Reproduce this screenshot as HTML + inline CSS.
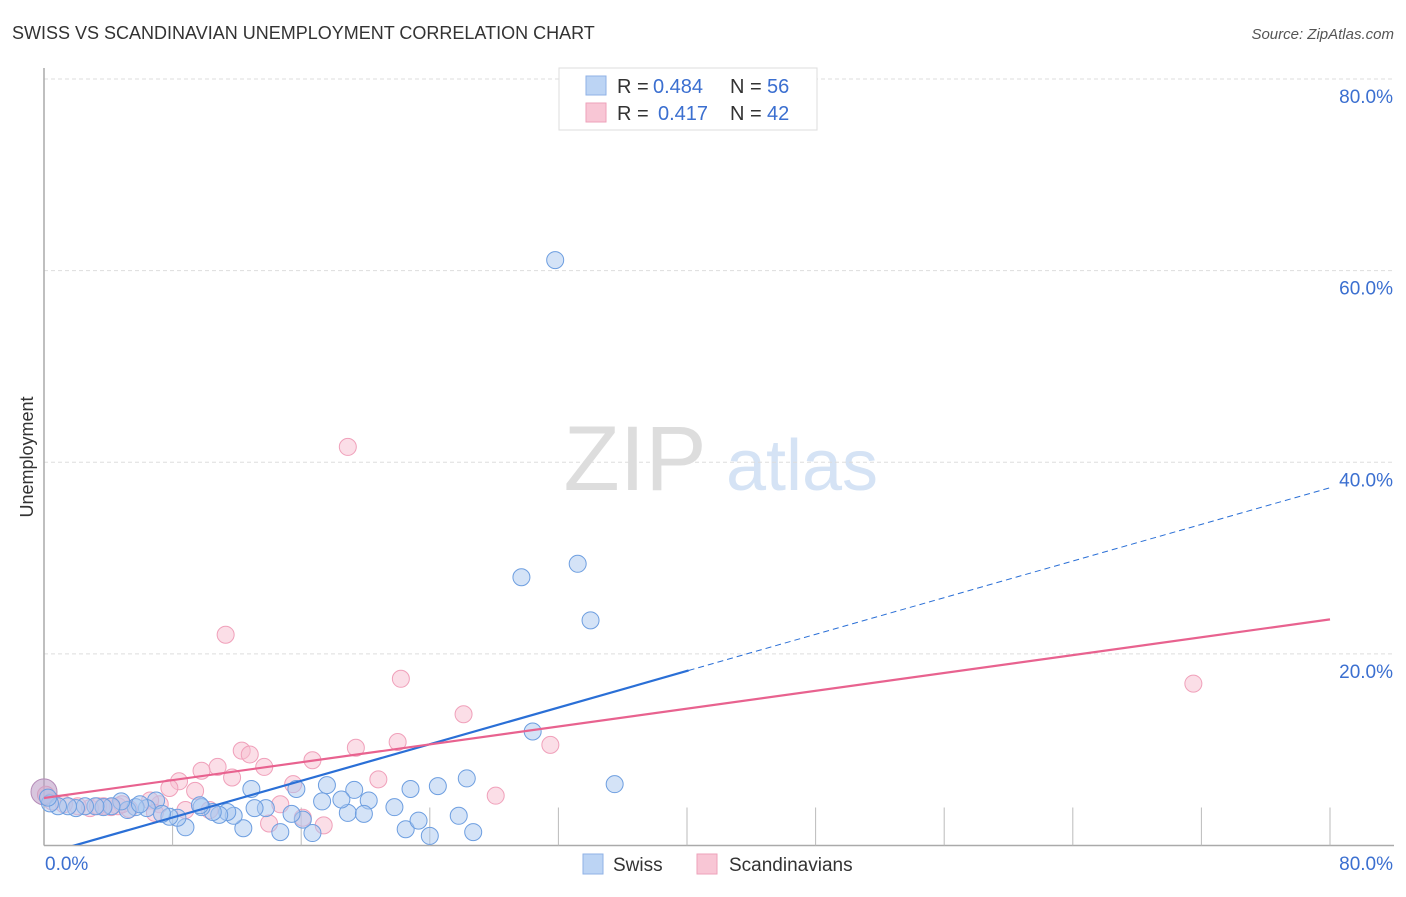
<!DOCTYPE html>
<html><head><meta charset="utf-8">
<style>
body{margin:0;background:#fff;font-family:"Liberation Sans",sans-serif;}
svg text{font-family:"Liberation Sans",sans-serif;}
</style></head>
<body>
<svg id="chart" width="1406" height="892" xmlns="http://www.w3.org/2000/svg">
<defs><clipPath id="plotclip"><rect x="44" y="60" width="1360" height="785"/></clipPath></defs>
<text x="12" y="39" font-size="18" fill="#333">SWISS VS SCANDINAVIAN UNEMPLOYMENT CORRELATION CHART</text>
<text x="1394" y="39" font-size="15" fill="#555" text-anchor="end" font-style="italic">Source: ZipAtlas.com</text>
<g>
<text x="635" y="490" font-size="92" fill="#ddd" text-anchor="middle" font-family="Liberation Serif">ZIP</text>
<text x="802" y="490" font-size="72" fill="#d5e3f5" text-anchor="middle">atlas</text>
</g>
<g id="grid"></g>
<g id="axes"></g>
<g id="points"></g>
<g id="lines" clip-path="url(#plotclip)"></g>
<text transform="translate(33,457) rotate(-90)" font-size="18" fill="#333" text-anchor="middle">Unemployment</text>
<g>
<rect x="559" y="68" width="258" height="62" fill="#fff" stroke="#ddd"/>
<rect x="586" y="76" width="20" height="19" fill="#bcd4f4" stroke="#8fb2e6"/>
<rect x="586" y="103" width="20" height="19" fill="#f8c6d5" stroke="#eea2ba"/>
<text x="617" y="93" font-size="20" fill="#333">R =</text>
<text x="653" y="93" font-size="20" fill="#3b6fd0">0.484</text>
<text x="730" y="93" font-size="20" fill="#333">N =</text>
<text x="767" y="93" font-size="20" fill="#3b6fd0">56</text>
<text x="617" y="120" font-size="20" fill="#333">R =</text>
<text x="658" y="120" font-size="20" fill="#3b6fd0">0.417</text>
<text x="730" y="120" font-size="20" fill="#333">N =</text>
<text x="767" y="120" font-size="20" fill="#3b6fd0">42</text>
</g>
<g>
<rect x="583" y="854" width="20" height="20" fill="#bcd4f4" stroke="#8fb2e6"/>
<text x="613" y="871" font-size="19" fill="#333">Swiss</text>
<rect x="697" y="854" width="20" height="20" fill="#f8c6d5" stroke="#eea2ba"/>
<text x="729" y="871" font-size="19" fill="#333">Scandinavians</text>
</g>
</svg>
<script>
const yTicks=[20,40,60,80];
const yTickLabels=["20.0%","40.0%","60.0%","80.0%"];
const xTickLabels=["0.0%","80.0%"];
const swissX=[31.8,33.2,29.7,34.0,30.4,35.5,26.3,24.5,22.8,21.8,22.5,23.3,24.0,25.8,26.7,20.2,19.3,18.9,19.9,18.5,17.6,17.3,16.7,16.1,15.7,15.4,14.7,13.8,13.1,12.4,12.9,11.8,11.4,10.9,10.5,9.8,8.8,8.3,7.8,6.97,6.4,5.7,5.2,4.8,4.2,3.7,3.2,2.55,1.99,1.49,0.87,0.37,0.25,5.97,7.34,9.7];
const swissY=[61.1,29.4,28.0,23.5,11.9,6.4,7.0,6.2,5.9,4.0,1.7,2.6,1.0,3.1,1.4,4.7,5.8,3.4,3.3,4.8,6.3,4.6,1.3,2.7,5.9,3.3,1.4,3.9,3.9,1.8,5.9,3.1,3.5,3.2,3.5,4.0,1.9,2.9,3.0,4.7,3.9,4.0,3.7,4.6,4.1,4.0,4.1,4.1,3.9,4.1,4.1,4.4,5.0,4.3,3.3,4.2];
const scanX=[18.9,11.3,22.2,71.5,26.1,31.5,22.0,19.4,16.7,12.3,12.8,13.7,10.8,9.8,11.7,20.8,28.1,15.5,8.4,7.8,9.4,14.7,14.0,16.1,17.4,10.3,7.2,6.6,5.3,4.6,3.7,2.86,2.1,1.24,0.5,0.12,0.0,6.9,8.8,4.85,3.36,4.17];
const scanY=[41.6,22.0,17.4,16.9,13.7,10.5,10.8,10.2,8.9,9.9,9.5,8.2,8.2,7.8,7.1,6.9,5.2,6.4,6.7,6.0,5.7,4.3,2.3,2.9,2.1,3.7,4.3,4.7,3.8,4.1,4.1,3.9,4.1,4.3,4.6,5.3,5.6,3.4,3.7,4.3,4.1,4.0];
const swissTrend=[-0.9,0.478];
const scanTrend=[4.96,0.233];
const NS="http://www.w3.org/2000/svg";
const X0=44,X1=1330,Y0=845.5,Y1=79;
function xs(v){return X0+(X1-X0)*v/80;}
function ys(v){return Y0-(Y0-Y1)*v/80;}
function mk(tag,attrs,parent){const e=document.createElementNS(NS,tag);for(const k in attrs)e.setAttribute(k,attrs[k]);parent.appendChild(e);return e;}
const grid=document.getElementById('grid'),axes=document.getElementById('axes'),pts=document.getElementById('points'),lines=document.getElementById('lines');
yTicks.forEach((t,i)=>{
 const l=mk('line',{x1:X0,x2:1394,y1:ys(t),y2:ys(t),stroke:'#ddd','stroke-dasharray':'4,3'},grid);
 
 
 const tx=mk('text',{x:1393,y:ys(t)+24,'font-size':19,fill:'#3b6fd0','text-anchor':'end'},axes);
 tx.textContent=yTickLabels[i];
 
 
});
const ax=mk('line',{x1:X0,x2:X0,y1:68,y2:Y0,stroke:'#aaa','stroke-width':1.5},axes);


const bx=mk('line',{x1:X0,x2:1394,y1:Y0,y2:Y0,stroke:'#aaa','stroke-width':1.5},axes);


for(let i=1;i<=10;i++){
 const tk=mk('line',{x1:xs(i*8),x2:xs(i*8),y1:Y0,y2:Y0-38,stroke:'#bbb'},axes);
 
 
}
const xl0=mk('text',{x:45,y:870,'font-size':19,fill:'#3b6fd0'},axes);xl0.textContent=xTickLabels[0];


const xl1=mk('text',{x:1393,y:870,'font-size':19,fill:'#3b6fd0','text-anchor':'end'},axes);xl1.textContent=xTickLabels[1];


scanX.forEach((x,i)=>{
 const c=mk('circle',{cx:xs(x),cy:ys(scanY[i]),r:i==36?13:8.5,fill:i==36?'rgba(190,160,200,0.6)':'rgba(248,190,208,0.5)',stroke:i==36?'#b58cb8':'#f0a0ba','stroke-width':1},pts);
 
 
});
swissX.forEach((x,i)=>{
 const c=mk('circle',{cx:xs(x),cy:ys(swissY[i]),r:8.5,fill:'rgba(170,200,240,0.5)',stroke:'#6d9ee0','stroke-width':1},pts);
 
 
});
const sw1=mk('line',{x1:xs(0),y1:ys(swissTrend[0]),x2:xs(40.1),y2:ys(swissTrend[0]+swissTrend[1]*40.1),stroke:'#2a6fd6','stroke-width':2.2},lines);


const sw2=mk('line',{x1:xs(40.1),y1:ys(swissTrend[0]+swissTrend[1]*40.1),x2:xs(80),y2:ys(swissTrend[0]+swissTrend[1]*80),stroke:'#2a6fd6','stroke-width':1,'stroke-dasharray':'6,4'},lines);


const sc=mk('line',{x1:xs(0),y1:ys(scanTrend[0]),x2:xs(80),y2:ys(scanTrend[0]+scanTrend[1]*80),stroke:'#e8628f','stroke-width':2.2},lines);


</script>
</body></html>
